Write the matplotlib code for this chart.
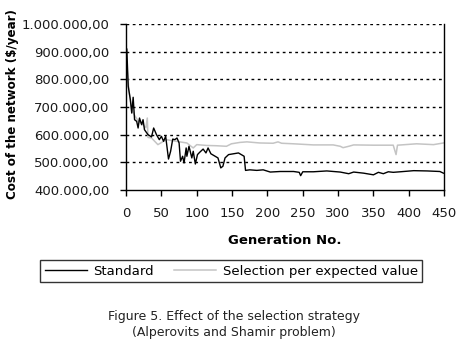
import numpy as np
import matplotlib.pyplot as plt
from matplotlib.ticker import FuncFormatter

# ---------------------------------------------------------------------------
# Data
# ---------------------------------------------------------------------------

gen_std = [0, 1, 3, 6, 8, 10, 12, 15, 17, 19, 22, 24, 26, 31, 36, 39, 43, 47,
           50, 53, 56, 60, 63, 66, 69, 72, 75, 77, 80, 82, 85, 86, 89, 93, 95,
           98, 101, 104, 109, 113, 116, 120, 126, 130, 134, 137, 140, 145, 152,
           159, 163, 167, 169, 175, 185, 194, 204, 218, 237, 245, 247, 250,
           265, 284, 303, 315, 322, 336, 350, 357, 364, 371, 378, 388, 407,
           426, 444, 449]
cost_std = [780, 910, 775, 727, 678, 735, 654, 648, 624, 660, 636, 654, 618,
            600, 592, 624, 600, 582, 594, 576, 594, 512, 540, 584, 582, 588,
            570, 504, 522, 498, 552, 522, 558, 516, 540, 494, 528, 536, 548,
            534, 552, 531, 522, 516, 480, 486, 516, 528, 531, 534, 528, 522,
            471, 473, 471, 473, 465, 467, 467, 464, 452, 466, 466, 469, 465,
            459, 465, 461, 455, 464, 459, 466, 464, 466, 470, 469, 467, 461]

gen_sel = [0, 1, 4, 8, 12, 17, 22, 28, 30, 31, 36, 45, 57, 71, 86, 95, 100,
           114, 128, 142, 149, 161, 171, 189, 208, 215, 220, 237, 265, 293,
           303, 307, 315, 322, 350, 378, 382, 384, 411, 435, 449]
cost_sel = [780, 850, 760, 690, 670, 650, 640, 625, 660, 590, 588, 564, 582,
            576, 570, 552, 564, 561, 560, 558, 567, 572, 574, 570, 569, 574,
            569, 567, 563, 563, 558, 553, 558, 563, 562, 562, 528, 562, 567,
            564, 570]

x_ticks = [0, 50, 100, 150, 200, 250, 300, 350, 400, 450]
y_ticks = [400000, 500000, 600000, 700000, 800000, 900000, 1000000]

# ---------------------------------------------------------------------------
# Plot
# ---------------------------------------------------------------------------

fig = plt.figure(figsize=(4.67, 3.62), dpi=100)
ax = fig.add_axes([0.27, 0.475, 0.681, 0.459])

ax.plot(gen_sel, np.array(cost_sel) * 1000, color='#c4c4c4', lw=1.1,
        label='Selection per expected value')
ax.plot(gen_std, np.array(cost_std) * 1000, color='black', lw=1.0,
        label='Standard')

ax.set_xlim(0, 450)
ax.set_ylim(400000, 1000000)
ax.set_xticks(x_ticks)
ax.set_yticks(y_ticks)


def fmt(v, _):
    s = '{:,.2f}'.format(v)
    return s.replace(',', 'X').replace('.', ',').replace('X', '.')


ax.yaxis.set_major_formatter(FuncFormatter(fmt))
ax.tick_params(axis='both', direction='out', length=4, width=1,
               labelsize=9.5, colors='black')
ax.tick_params(axis='x', pad=8)
ax.tick_params(axis='y', pad=8)
for lab in ax.get_xticklabels() + ax.get_yticklabels():
    lab.set_color('#1a1a1a')

for yv in y_ticks[1:]:
    ax.axhline(yv, color='black', lw=1.0, ls=(0, (2, 2.5)), zorder=0)

ax.spines['top'].set_visible(False)
for s in ['left', 'bottom', 'right']:
    ax.spines[s].set_linewidth(1.0)

ax.set_xlabel('Generation No.', fontsize=9.5, fontweight='bold', labelpad=10)
ax.set_ylabel('Cost of the network ($/year)', fontsize=8.6,
              fontweight='bold')
ax.yaxis.set_label_coords(-0.338, 0.52)

h, l = ax.get_legend_handles_labels()
leg = fig.legend(h[::-1], l[::-1], loc='center', ncol=2,
                 bbox_to_anchor=(0.495, 0.251), fontsize=9.5, frameon=True,
                 fancybox=False, edgecolor='black', handlelength=3.2,
                 columnspacing=1.5, borderpad=0.35, handletextpad=0.5)
leg.get_frame().set_linewidth(1.0)

fig.text(0.5, 0.103, 'Figure 5. Effect of the selection strategy\n'
         '(Alperovits and Shamir problem)', ha='center', va='center',
         fontsize=9, color='#222222', linespacing=1.3)

plt.savefig('out.png', dpi=100)
